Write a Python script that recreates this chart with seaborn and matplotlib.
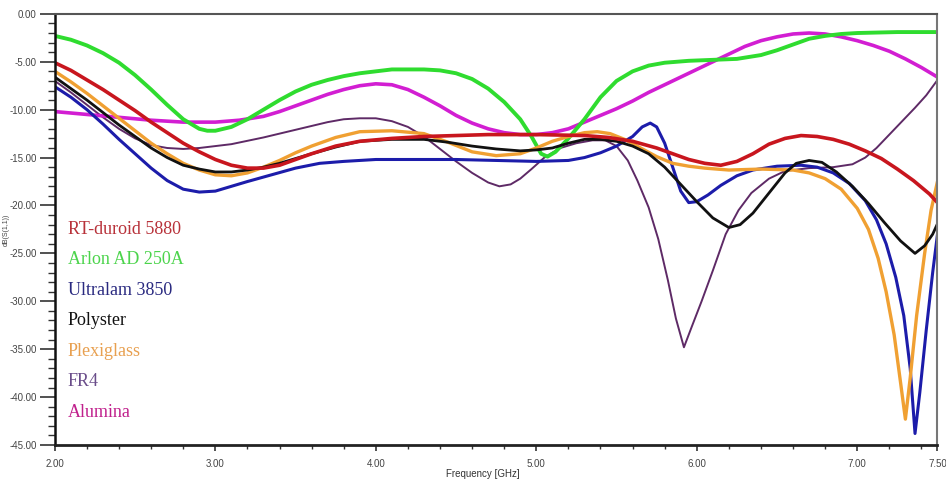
import numpy as np
import pandas as pd
import seaborn as sns
import matplotlib.pyplot as plt
from matplotlib.ticker import MultipleLocator, FixedLocator, FormatStrFormatter

# S11 curves (frequency in GHz, return loss in dB)
rt_f = [2.0, 2.1, 2.2, 2.3, 2.4, 2.5, 2.6, 2.7, 2.8, 2.9, 3.0, 3.1, 3.2, 3.3, 3.4, 3.5, 3.6, 3.75, 3.9, 4.1, 4.3, 4.7, 5.0, 5.3, 5.45, 5.6, 5.75, 5.85, 5.95, 6.05, 6.15, 6.25, 6.35, 6.45, 6.55, 6.65, 6.75, 6.85, 6.95, 7.05, 7.15, 7.25, 7.35, 7.45, 7.5]
rt_db = [-5.1, -5.9, -6.9, -7.9, -9.0, -10.1, -11.3, -12.4, -13.5, -14.4, -15.2, -15.8, -16.1, -16.1, -15.8, -15.2, -14.6, -13.8, -13.3, -13.0, -12.8, -12.6, -12.6, -12.7, -12.9, -13.3, -14.0, -14.6, -15.2, -15.6, -15.8, -15.4, -14.6, -13.6, -13.0, -12.7, -12.8, -13.1, -13.6, -14.3, -15.1, -16.2, -17.4, -18.8, -19.7]

arlon_f = [2.0, 2.1, 2.2, 2.3, 2.4, 2.5, 2.6, 2.7, 2.8, 2.9, 2.95, 3.0, 3.1, 3.2, 3.3, 3.4, 3.5, 3.6, 3.7, 3.8, 3.9, 4.0, 4.1, 4.2, 4.3, 4.4, 4.5, 4.6, 4.7, 4.8, 4.9, 4.97, 5.03, 5.07, 5.12, 5.2, 5.3, 5.4, 5.5, 5.6, 5.7, 5.8, 5.95, 6.1, 6.25, 6.4, 6.5, 6.6, 6.7, 6.8, 6.9, 7.0, 7.25, 7.5]
arlon_db = [-2.3, -2.7, -3.3, -4.1, -5.1, -6.4, -7.9, -9.5, -11.0, -12.0, -12.2, -12.2, -11.8, -11.0, -10.0, -9.0, -8.1, -7.4, -6.9, -6.5, -6.2, -6.0, -5.8, -5.8, -5.8, -5.9, -6.2, -6.8, -7.8, -9.2, -11.0, -12.8, -14.6, -14.9, -14.4, -13.0, -11.0, -8.7, -7.0, -6.0, -5.4, -5.1, -4.9, -4.8, -4.7, -4.3, -3.8, -3.2, -2.6, -2.3, -2.1, -2.0, -1.9, -1.9]

ultra_f = [2.0, 2.1, 2.2, 2.3, 2.4, 2.5, 2.6, 2.7, 2.8, 2.9, 3.0, 3.1, 3.2, 3.35, 3.5, 3.65, 3.8, 4.0, 4.5, 5.0, 5.2, 5.3, 5.4, 5.5, 5.6, 5.66, 5.71, 5.75, 5.8, 5.85, 5.9, 5.95, 6.0, 6.07, 6.15, 6.25, 6.35, 6.5, 6.65, 6.75, 6.85, 6.95, 7.05, 7.12, 7.18, 7.24, 7.29, 7.33, 7.36, 7.39, 7.43, 7.47, 7.5]
ultra_db = [-7.6, -8.7, -10.0, -11.5, -13.1, -14.6, -16.1, -17.4, -18.3, -18.6, -18.5, -18.0, -17.5, -16.8, -16.1, -15.6, -15.4, -15.2, -15.2, -15.4, -15.3, -15.0, -14.5, -13.8, -12.8, -11.8, -11.4, -11.8, -13.5, -16.0, -18.5, -19.7, -19.6, -18.9, -17.9, -16.9, -16.3, -15.9, -15.8, -16.0, -16.6, -17.7, -19.5, -21.5, -24.0, -27.5, -31.5, -37.0, -43.8, -39.5, -33.0, -27.0, -23.0]

poly_f = [2.0, 2.1, 2.2, 2.3, 2.4, 2.5, 2.6, 2.7, 2.8, 2.9, 3.0, 3.1, 3.2, 3.3, 3.4, 3.5, 3.6, 3.75, 3.9, 4.1, 4.3, 4.45, 4.6, 4.75, 4.9, 5.0, 5.1, 5.2, 5.3, 5.4, 5.5, 5.6, 5.7, 5.8, 5.9, 6.0, 6.1, 6.2, 6.27, 6.35, 6.45, 6.55, 6.62, 6.7, 6.78, 6.87, 6.97, 7.07, 7.17, 7.27, 7.36, 7.42, 7.47, 7.5]
poly_db = [-6.6, -7.8, -9.0, -10.3, -11.6, -12.8, -14.0, -15.0, -15.8, -16.2, -16.5, -16.5, -16.3, -16.0, -15.6, -15.1, -14.6, -13.9, -13.3, -13.1, -13.1, -13.4, -13.8, -14.1, -14.3, -14.2, -14.0, -13.5, -13.1, -13.1, -13.3, -13.8, -14.6, -16.0, -17.8, -19.6, -21.3, -22.3, -22.0, -20.8, -18.7, -16.6, -15.6, -15.3, -15.5, -16.5, -18.0, -19.8, -21.8, -23.7, -25.0, -24.2, -23.0, -21.9]

plexi_f = [2.0, 2.1, 2.2, 2.3, 2.4, 2.5, 2.6, 2.7, 2.8, 2.9, 3.0, 3.1, 3.2, 3.3, 3.4, 3.5, 3.6, 3.75, 3.9, 4.1, 4.3, 4.45, 4.6, 4.75, 4.9, 5.0, 5.1, 5.2, 5.3, 5.38, 5.46, 5.55, 5.65, 5.75, 5.85, 5.95, 6.05, 6.2, 6.4, 6.6, 6.7, 6.8, 6.9, 7.0, 7.07, 7.13, 7.18, 7.23, 7.27, 7.3, 7.33, 7.37, 7.42, 7.46, 7.5]
plexi_db = [-6.0, -7.1, -8.3, -9.6, -10.9, -12.2, -13.5, -14.6, -15.6, -16.3, -16.8, -16.9, -16.6, -16.0, -15.3, -14.5, -13.8, -12.9, -12.3, -12.2, -12.5, -13.4, -14.4, -14.8, -14.6, -14.0, -13.3, -12.8, -12.4, -12.3, -12.5, -13.1, -14.0, -14.9, -15.6, -15.9, -16.1, -16.3, -16.2, -16.3, -16.6, -17.2, -18.3, -20.3, -22.5, -25.5, -29.0, -33.5, -38.5, -42.3, -38.0, -31.5, -25.0, -20.5, -17.5]

fr4_f = [2.0, 2.1, 2.2, 2.3, 2.4, 2.5, 2.6, 2.7, 2.8, 2.9, 3.0, 3.1, 3.3, 3.5, 3.7, 3.8, 3.9, 4.0, 4.1, 4.2, 4.3, 4.4, 4.5, 4.6, 4.7, 4.77, 4.84, 4.9, 4.97, 5.05, 5.15, 5.25, 5.35, 5.43, 5.5, 5.57, 5.63, 5.7, 5.76, 5.82, 5.87, 5.92, 5.97, 6.03, 6.1, 6.18, 6.26, 6.34, 6.45, 6.55, 6.7, 6.85, 6.97, 7.05, 7.12, 7.2, 7.28, 7.36, 7.43, 7.5]
fr4_db = [-7.0, -8.2, -9.5, -10.8, -12.0, -13.0, -13.7, -14.0, -14.1, -14.0, -13.8, -13.6, -12.9, -12.1, -11.3, -11.0, -10.9, -10.9, -11.2, -11.8, -12.8, -14.1, -15.4, -16.6, -17.6, -18.0, -17.8, -17.2, -16.2, -15.0, -14.0, -13.5, -13.2, -13.2, -13.8, -15.3, -17.4, -20.2, -23.5, -27.8, -31.8, -34.8, -32.6, -30.0, -26.8, -23.0, -20.5, -18.7, -17.2, -16.4, -16.1, -16.0, -15.7, -15.0, -14.0, -12.6, -11.2, -9.8, -8.5, -6.9]

alu_f = [2.0, 2.2, 2.4, 2.6, 2.8, 3.0, 3.15, 3.3, 3.4, 3.5, 3.6, 3.7, 3.8, 3.9, 4.0, 4.1, 4.2, 4.3, 4.4, 4.5, 4.6, 4.7, 4.8, 4.9, 5.0, 5.1, 5.2, 5.3, 5.4, 5.5, 5.6, 5.7, 5.8, 5.9, 6.0, 6.1, 6.2, 6.3, 6.4, 6.5, 6.6, 6.7, 6.8, 6.9, 7.0, 7.1, 7.2, 7.3, 7.4, 7.5]
alu_db = [-10.2, -10.5, -10.8, -11.1, -11.3, -11.3, -11.1, -10.7, -10.2, -9.6, -9.0, -8.4, -7.9, -7.5, -7.3, -7.4, -7.9, -8.7, -9.6, -10.6, -11.4, -12.0, -12.4, -12.6, -12.6, -12.4, -12.0, -11.3, -10.6, -9.9, -9.1, -8.2, -7.4, -6.6, -5.8, -5.0, -4.2, -3.4, -2.8, -2.4, -2.1, -2.0, -2.1, -2.4, -2.8, -3.3, -3.9, -4.7, -5.6, -6.6]

materials = ["RT-duroid 5880", "Arlon AD 250A", "Ultralam 3850", "Polyster", "Plexiglass", "FR4", "Alumina"]
line_colors = ["#c8161e", "#2fdc2f", "#1c1caa", "#111111", "#f0a032", "#5e2a66", "#d21ed2"]
text_colors = ["#b8323a", "#4cd44c", "#2a2a80", "#111111", "#e8a050", "#6a4d8a", "#c0208c"]
line_widths = [2.6, 2.8, 2.2, 2.0, 2.4, 1.4, 2.6]

freqs = [rt_f, arlon_f, ultra_f, poly_f, plexi_f, fr4_f, alu_f]
values = [rt_db, arlon_db, ultra_db, poly_db, plexi_db, fr4_db, alu_db]

df = pd.concat([pd.DataFrame({"freq": f, "db": v, "material": m})
                for f, v, m in zip(freqs, values, materials)], ignore_index=True)

sns.set_style("ticks")
fig = plt.figure(figsize=(9.46, 4.95), dpi=100)
ax = fig.add_axes([0.058, 0.101, 0.933, 0.871])

draw_order = [5, 6, 1, 2, 4, 3, 0]
for i in draw_order:
    sub = df[df["material"] == materials[i]]
    sns.lineplot(data=sub, x="freq", y="db", color=line_colors[i], lw=line_widths[i],
                 sort=False, estimator=None, ax=ax,
                 solid_joinstyle="round", solid_capstyle="round")

ax.set_xlim(2.0, 7.5)
ax.set_ylim(-45, 0)
ax.xaxis.set_major_locator(FixedLocator([2, 3, 4, 5, 6, 7, 7.5]))
ax.xaxis.set_minor_locator(MultipleLocator(0.2))
ax.yaxis.set_major_locator(MultipleLocator(5))
ax.yaxis.set_minor_locator(MultipleLocator(1))
ax.xaxis.set_major_formatter(FormatStrFormatter("%.2f"))
ax.yaxis.set_major_formatter(FormatStrFormatter("%.2f"))

ax.tick_params(axis="y", which="major", length=11, width=1.2, color="#333333",
               labelsize=7, labelcolor="#444444", pad=2)
ax.tick_params(axis="y", which="minor", length=5, width=1.0, color="#333333")
ax.tick_params(axis="x", which="major", length=4, width=1.2, color="#333333",
               labelsize=7, labelcolor="#444444", pad=6)
ax.tick_params(axis="x", which="minor", length=3, width=1.0, color="#333333")
for lab in ax.get_xticklabels() + ax.get_yticklabels():
    lab.set_family("Liberation Sans")

for side in ["top", "right", "left", "bottom"]:
    ax.spines[side].set_visible(True)
ax.spines["left"].set_linewidth(1.8)
ax.spines["left"].set_color("#111111")
ax.spines["bottom"].set_linewidth(2.0)
ax.spines["bottom"].set_color("#222222")
ax.spines["top"].set_linewidth(1.5)
ax.spines["top"].set_color("#555555")
ax.spines["right"].set_linewidth(1.5)
ax.spines["right"].set_color("#777777")

ax.set_xlabel("Frequency [GHz]", fontsize=7, family="Liberation Sans", color="#333333", labelpad=1)
ax.xaxis.set_label_coords(0.485, -0.055)
ax.set_ylabel("")
fig.text(0.003, 0.535, "dB(S(1,1))", rotation=90, fontsize=5, color="#444444",
         family="Liberation Sans", ha="left", va="center")

# coloured material names inside the plot
for k, (name, c) in enumerate(zip(materials, text_colors)):
    ax.text(0.0147, 0.501 - k * 0.0708, name, transform=ax.transAxes, color=c,
            fontsize=13, family="Liberation Serif", ha="left", va="center")

fig.savefig("out.png", dpi=100)
